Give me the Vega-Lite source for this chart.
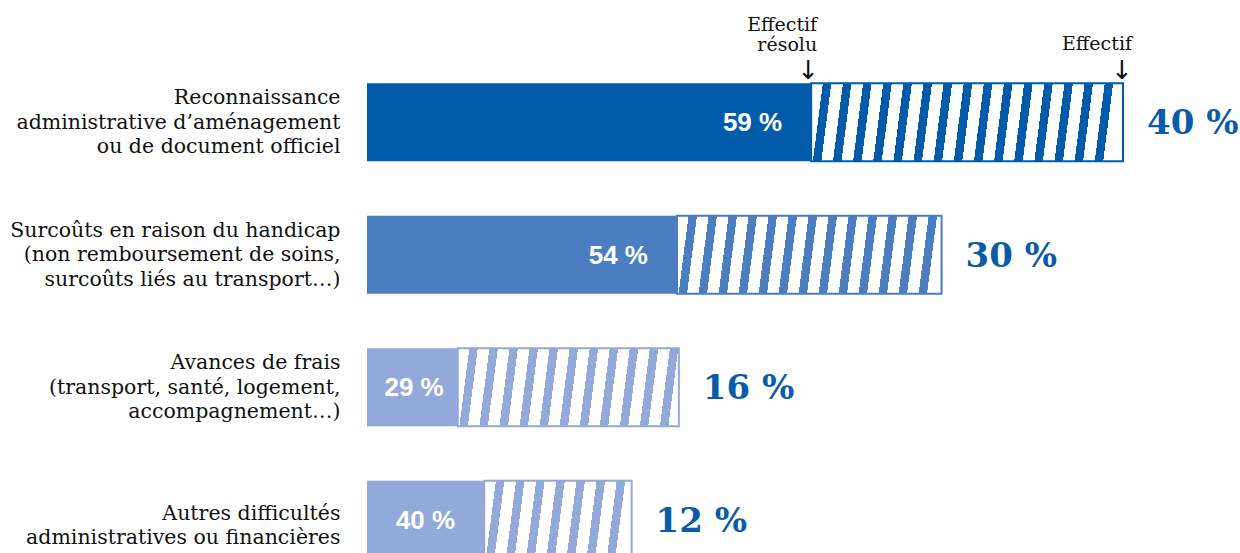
{
  "$schema": "https://vega.github.io/schema/vega-lite/v6.json",
  "width": 756,
  "height": 530,
  "autosize": "none",
  "padding": {"left": 367, "top": 56, "right": 117, "bottom": 0},
  "background": "white",
  "config": {"view": {"stroke": null}},
  "data": {
    "values": [
      {"rang": 1, "categorie": "Reconnaissance|administrative d’aménagement|ou de document officiel", "effectif": 40, "effectif_resolu": 23.5, "part": "40 %", "taux_resolu": "59 %"},
      {"rang": 2, "categorie": "Surcoûts en raison du handicap|(non remboursement de soins,|surcoûts liés au transport…)", "effectif": 30.4, "effectif_resolu": 16.4, "part": "30 %", "taux_resolu": "54 %"},
      {"rang": 3, "categorie": "Avances de frais|(transport, santé, logement,|accompagnement…)", "effectif": 16.5, "effectif_resolu": 4.8, "part": "16 %", "taux_resolu": "29 %"},
      {"rang": 4, "categorie": "Autres difficultés|administratives ou financières", "effectif": 14.0, "effectif_resolu": 6.2, "part": "12 %", "taux_resolu": "40 %"}
    ]
  },
  "encoding": {
    "y": {
      "field": "categorie",
      "type": "nominal",
      "scale": {
        "domain": [
          "Reconnaissance|administrative d’aménagement|ou de document officiel",
          "Surcoûts en raison du handicap|(non remboursement de soins,|surcoûts liés au transport…)",
          "Avances de frais|(transport, santé, logement,|accompagnement…)",
          "Autres difficultés|administratives ou financières"
        ],
        "paddingInner": 0.41,
        "paddingOuter": 0.205
      },
      "axis": {
        "title": null,
        "ticks": false,
        "domain": false,
        "labelExpr": "split(datum.label, '|')",
        "labelFont": "DejaVu Serif",
        "labelFontSize": 20.5,
        "labelLineHeight": 24.5,
        "labelColor": "#111111",
        "labelPadding": 27,
        "labelLimit": 400,
        "labelOffset": {"condition": {"test": "indexof(datum.value, 'Autres') == 0", "value": -6}, "value": -24}
      }
    }
  },
  "layer": [
    {
      "transform": [{"filter": "datum.rang == 1"}],
      "mark": {"type": "bar", "stroke": "#005CAB", "strokeWidth": 2,
        "color": {"gradient": "linear", "x1": 0, "y1": 0, "x2": 1, "y2": 0.032, "stops": [
          {"offset": 0, "color": "#ffffff"}, {"offset": 0.0374, "color": "#ffffff"}, {"offset": 0.0374, "color": "#005CAB"}, {"offset": 0.0645, "color": "#005CAB"},
          {"offset": 0.0645, "color": "#ffffff"}, {"offset": 0.1019, "color": "#ffffff"}, {"offset": 0.1019, "color": "#005CAB"}, {"offset": 0.129, "color": "#005CAB"},
          {"offset": 0.129, "color": "#ffffff"}, {"offset": 0.1664, "color": "#ffffff"}, {"offset": 0.1664, "color": "#005CAB"}, {"offset": 0.1935, "color": "#005CAB"},
          {"offset": 0.1935, "color": "#ffffff"}, {"offset": 0.2309, "color": "#ffffff"}, {"offset": 0.2309, "color": "#005CAB"}, {"offset": 0.258, "color": "#005CAB"},
          {"offset": 0.258, "color": "#ffffff"}, {"offset": 0.2954, "color": "#ffffff"}, {"offset": 0.2954, "color": "#005CAB"}, {"offset": 0.3225, "color": "#005CAB"},
          {"offset": 0.3225, "color": "#ffffff"}, {"offset": 0.3599, "color": "#ffffff"}, {"offset": 0.3599, "color": "#005CAB"}, {"offset": 0.387, "color": "#005CAB"},
          {"offset": 0.387, "color": "#ffffff"}, {"offset": 0.4244, "color": "#ffffff"}, {"offset": 0.4244, "color": "#005CAB"}, {"offset": 0.4515, "color": "#005CAB"},
          {"offset": 0.4515, "color": "#ffffff"}, {"offset": 0.4889, "color": "#ffffff"}, {"offset": 0.4889, "color": "#005CAB"}, {"offset": 0.516, "color": "#005CAB"},
          {"offset": 0.516, "color": "#ffffff"}, {"offset": 0.5534, "color": "#ffffff"}, {"offset": 0.5534, "color": "#005CAB"}, {"offset": 0.5805, "color": "#005CAB"},
          {"offset": 0.5805, "color": "#ffffff"}, {"offset": 0.6179, "color": "#ffffff"}, {"offset": 0.6179, "color": "#005CAB"}, {"offset": 0.645, "color": "#005CAB"},
          {"offset": 0.645, "color": "#ffffff"}, {"offset": 0.6824, "color": "#ffffff"}, {"offset": 0.6824, "color": "#005CAB"}, {"offset": 0.7095, "color": "#005CAB"},
          {"offset": 0.7095, "color": "#ffffff"}, {"offset": 0.7469, "color": "#ffffff"}, {"offset": 0.7469, "color": "#005CAB"}, {"offset": 0.774, "color": "#005CAB"},
          {"offset": 0.774, "color": "#ffffff"}, {"offset": 0.8114, "color": "#ffffff"}, {"offset": 0.8114, "color": "#005CAB"}, {"offset": 0.8385, "color": "#005CAB"},
          {"offset": 0.8385, "color": "#ffffff"}, {"offset": 0.8759, "color": "#ffffff"}, {"offset": 0.8759, "color": "#005CAB"}, {"offset": 0.903, "color": "#005CAB"},
          {"offset": 0.903, "color": "#ffffff"}, {"offset": 0.9404, "color": "#ffffff"}, {"offset": 0.9404, "color": "#005CAB"}, {"offset": 0.9675, "color": "#005CAB"},
          {"offset": 0.9675, "color": "#ffffff"}, {"offset": 1, "color": "#ffffff"}
        ]}
      },
      "encoding": {
        "x": {"field": "effectif_resolu", "type": "quantitative", "scale": {"domain": [0, 40]}, "axis": null},
        "x2": {"field": "effectif"}
      }
    },
    {
      "transform": [{"filter": "datum.rang == 2"}],
      "mark": {"type": "bar", "stroke": "#4A7EC0", "strokeWidth": 2,
        "color": {"gradient": "linear", "x1": 0, "y1": 0, "x2": 1, "y2": 0.0378, "stops": [
          {"offset": 0, "color": "#ffffff"}, {"offset": 0.0438, "color": "#ffffff"}, {"offset": 0.0438, "color": "#4A7EC0"}, {"offset": 0.0755, "color": "#4A7EC0"},
          {"offset": 0.0755, "color": "#ffffff"}, {"offset": 0.1193, "color": "#ffffff"}, {"offset": 0.1193, "color": "#4A7EC0"}, {"offset": 0.151, "color": "#4A7EC0"},
          {"offset": 0.151, "color": "#ffffff"}, {"offset": 0.1948, "color": "#ffffff"}, {"offset": 0.1948, "color": "#4A7EC0"}, {"offset": 0.2265, "color": "#4A7EC0"},
          {"offset": 0.2265, "color": "#ffffff"}, {"offset": 0.2703, "color": "#ffffff"}, {"offset": 0.2703, "color": "#4A7EC0"}, {"offset": 0.302, "color": "#4A7EC0"},
          {"offset": 0.302, "color": "#ffffff"}, {"offset": 0.3458, "color": "#ffffff"}, {"offset": 0.3458, "color": "#4A7EC0"}, {"offset": 0.3775, "color": "#4A7EC0"},
          {"offset": 0.3775, "color": "#ffffff"}, {"offset": 0.4213, "color": "#ffffff"}, {"offset": 0.4213, "color": "#4A7EC0"}, {"offset": 0.453, "color": "#4A7EC0"},
          {"offset": 0.453, "color": "#ffffff"}, {"offset": 0.4968, "color": "#ffffff"}, {"offset": 0.4968, "color": "#4A7EC0"}, {"offset": 0.5285, "color": "#4A7EC0"},
          {"offset": 0.5285, "color": "#ffffff"}, {"offset": 0.5723, "color": "#ffffff"}, {"offset": 0.5723, "color": "#4A7EC0"}, {"offset": 0.604, "color": "#4A7EC0"},
          {"offset": 0.604, "color": "#ffffff"}, {"offset": 0.6478, "color": "#ffffff"}, {"offset": 0.6478, "color": "#4A7EC0"}, {"offset": 0.6795, "color": "#4A7EC0"},
          {"offset": 0.6795, "color": "#ffffff"}, {"offset": 0.7233, "color": "#ffffff"}, {"offset": 0.7233, "color": "#4A7EC0"}, {"offset": 0.755, "color": "#4A7EC0"},
          {"offset": 0.755, "color": "#ffffff"}, {"offset": 0.7988, "color": "#ffffff"}, {"offset": 0.7988, "color": "#4A7EC0"}, {"offset": 0.8305, "color": "#4A7EC0"},
          {"offset": 0.8305, "color": "#ffffff"}, {"offset": 0.8743, "color": "#ffffff"}, {"offset": 0.8743, "color": "#4A7EC0"}, {"offset": 0.906, "color": "#4A7EC0"},
          {"offset": 0.906, "color": "#ffffff"}, {"offset": 0.9498, "color": "#ffffff"}, {"offset": 0.9498, "color": "#4A7EC0"}, {"offset": 0.9815, "color": "#4A7EC0"},
          {"offset": 0.9815, "color": "#ffffff"}, {"offset": 1, "color": "#ffffff"}
        ]}
      },
      "encoding": {
        "x": {"field": "effectif_resolu", "type": "quantitative", "scale": {"domain": [0, 40]}, "axis": null},
        "x2": {"field": "effectif"}
      }
    },
    {
      "transform": [{"filter": "datum.rang == 3"}],
      "mark": {"type": "bar", "stroke": "#92A9D9", "strokeWidth": 2,
        "color": {"gradient": "linear", "x1": 0, "y1": 0, "x2": 1, "y2": 0.0452, "stops": [
          {"offset": 0, "color": "#ffffff"}, {"offset": 0.0525, "color": "#ffffff"}, {"offset": 0.0525, "color": "#92A9D9"}, {"offset": 0.0905, "color": "#92A9D9"},
          {"offset": 0.0905, "color": "#ffffff"}, {"offset": 0.143, "color": "#ffffff"}, {"offset": 0.143, "color": "#92A9D9"}, {"offset": 0.181, "color": "#92A9D9"},
          {"offset": 0.181, "color": "#ffffff"}, {"offset": 0.2335, "color": "#ffffff"}, {"offset": 0.2335, "color": "#92A9D9"}, {"offset": 0.2715, "color": "#92A9D9"},
          {"offset": 0.2715, "color": "#ffffff"}, {"offset": 0.324, "color": "#ffffff"}, {"offset": 0.324, "color": "#92A9D9"}, {"offset": 0.362, "color": "#92A9D9"},
          {"offset": 0.362, "color": "#ffffff"}, {"offset": 0.4145, "color": "#ffffff"}, {"offset": 0.4145, "color": "#92A9D9"}, {"offset": 0.4525, "color": "#92A9D9"},
          {"offset": 0.4525, "color": "#ffffff"}, {"offset": 0.505, "color": "#ffffff"}, {"offset": 0.505, "color": "#92A9D9"}, {"offset": 0.543, "color": "#92A9D9"},
          {"offset": 0.543, "color": "#ffffff"}, {"offset": 0.5955, "color": "#ffffff"}, {"offset": 0.5955, "color": "#92A9D9"}, {"offset": 0.6335, "color": "#92A9D9"},
          {"offset": 0.6335, "color": "#ffffff"}, {"offset": 0.686, "color": "#ffffff"}, {"offset": 0.686, "color": "#92A9D9"}, {"offset": 0.724, "color": "#92A9D9"},
          {"offset": 0.724, "color": "#ffffff"}, {"offset": 0.7765, "color": "#ffffff"}, {"offset": 0.7765, "color": "#92A9D9"}, {"offset": 0.8145, "color": "#92A9D9"},
          {"offset": 0.8145, "color": "#ffffff"}, {"offset": 0.867, "color": "#ffffff"}, {"offset": 0.867, "color": "#92A9D9"}, {"offset": 0.905, "color": "#92A9D9"},
          {"offset": 0.905, "color": "#ffffff"}, {"offset": 0.9575, "color": "#ffffff"}, {"offset": 0.9575, "color": "#92A9D9"}, {"offset": 0.9955, "color": "#92A9D9"},
          {"offset": 0.9955, "color": "#ffffff"}, {"offset": 1, "color": "#ffffff"}
        ]}
      },
      "encoding": {
        "x": {"field": "effectif_resolu", "type": "quantitative", "scale": {"domain": [0, 40]}, "axis": null},
        "x2": {"field": "effectif"}
      }
    },
    {
      "transform": [{"filter": "datum.rang == 4"}],
      "mark": {"type": "bar", "stroke": "#92A9D9", "strokeWidth": 2,
        "color": {"gradient": "linear", "x1": 0, "y1": 0, "x2": 1, "y2": 0.068, "stops": [
          {"offset": 0, "color": "#ffffff"}, {"offset": 0.0789, "color": "#ffffff"}, {"offset": 0.0789, "color": "#92A9D9"}, {"offset": 0.136, "color": "#92A9D9"},
          {"offset": 0.136, "color": "#ffffff"}, {"offset": 0.2149, "color": "#ffffff"}, {"offset": 0.2149, "color": "#92A9D9"}, {"offset": 0.272, "color": "#92A9D9"},
          {"offset": 0.272, "color": "#ffffff"}, {"offset": 0.3509, "color": "#ffffff"}, {"offset": 0.3509, "color": "#92A9D9"}, {"offset": 0.408, "color": "#92A9D9"},
          {"offset": 0.408, "color": "#ffffff"}, {"offset": 0.4869, "color": "#ffffff"}, {"offset": 0.4869, "color": "#92A9D9"}, {"offset": 0.544, "color": "#92A9D9"},
          {"offset": 0.544, "color": "#ffffff"}, {"offset": 0.6229, "color": "#ffffff"}, {"offset": 0.6229, "color": "#92A9D9"}, {"offset": 0.68, "color": "#92A9D9"},
          {"offset": 0.68, "color": "#ffffff"}, {"offset": 0.7589, "color": "#ffffff"}, {"offset": 0.7589, "color": "#92A9D9"}, {"offset": 0.816, "color": "#92A9D9"},
          {"offset": 0.816, "color": "#ffffff"}, {"offset": 0.8949, "color": "#ffffff"}, {"offset": 0.8949, "color": "#92A9D9"}, {"offset": 0.952, "color": "#92A9D9"},
          {"offset": 0.952, "color": "#ffffff"}, {"offset": 1, "color": "#ffffff"}
        ]}
      },
      "encoding": {
        "x": {"field": "effectif_resolu", "type": "quantitative", "scale": {"domain": [0, 40]}, "axis": null},
        "x2": {"field": "effectif"}
      }
    },
    {
      "mark": {"type": "bar"},
      "encoding": {
        "x": {"field": "effectif_resolu", "type": "quantitative", "stack": null, "scale": {"domain": [0, 40]}, "axis": null},
        "color": {
          "field": "rang",
          "type": "ordinal",
          "scale": {"domain": [1, 2, 3, 4], "range": ["#005CAB", "#4A7EC0", "#92A9D9", "#92A9D9"]},
          "legend": null
        }
      }
    },
    {
      "transform": [{"filter": "datum.rang != 3"}],
      "mark": {"type": "text", "align": "right", "baseline": "middle", "dx": -29, "dy": 1, "font": "Liberation Sans", "fontWeight": "bold", "fontSize": 26, "color": "#ffffff"},
      "encoding": {
        "x": {"field": "effectif_resolu", "type": "quantitative", "scale": {"domain": [0, 40]}, "axis": null},
        "text": {"field": "taux_resolu"}
      }
    },
    {
      "transform": [{"filter": "datum.rang == 3"}],
      "mark": {"type": "text", "align": "right", "baseline": "middle", "dx": -14, "dy": 1, "font": "Liberation Sans", "fontWeight": "bold", "fontSize": 26, "color": "#ffffff"},
      "encoding": {
        "x": {"field": "effectif_resolu", "type": "quantitative", "scale": {"domain": [0, 40]}, "axis": null},
        "text": {"field": "taux_resolu"}
      }
    },
    {
      "mark": {"type": "text", "align": "left", "baseline": "middle", "dx": 24, "dy": 2, "font": "DejaVu Serif", "fontWeight": "bold", "fontSize": 34, "color": "#0A5CA8"},
      "encoding": {
        "x": {"field": "effectif", "type": "quantitative", "scale": {"domain": [0, 40]}, "axis": null},
        "text": {"field": "part"}
      }
    },
    {
      "transform": [{"filter": "datum.rang == 1"}],
      "mark": {"type": "text", "align": "right", "baseline": "alphabetic", "dx": 6, "dy": -91, "lineHeight": 20, "font": "DejaVu Serif", "fontSize": 19, "color": "#111111", "text": ["Effectif", "résolu"]},
      "encoding": {
        "x": {"field": "effectif_resolu", "type": "quantitative", "scale": {"domain": [0, 40]}, "axis": null}
      }
    },
    {
      "transform": [{"filter": "datum.rang == 1"}],
      "mark": {"type": "text", "align": "right", "baseline": "alphabetic", "dx": 9, "dy": -72, "font": "DejaVu Serif", "fontSize": 19, "color": "#111111", "text": "Effectif"},
      "encoding": {
        "x": {"field": "effectif", "type": "quantitative", "scale": {"domain": [0, 40]}, "axis": null}
      }
    },
    {
      "transform": [{"filter": "datum.rang == 1"}],
      "mark": {"type": "text", "align": "center", "baseline": "middle", "dx": -3, "dy": -51, "font": "DejaVu Sans", "fontSize": 26, "color": "#111111", "text": "↓"},
      "encoding": {
        "x": {"field": "effectif_resolu", "type": "quantitative", "scale": {"domain": [0, 40]}, "axis": null}
      }
    },
    {
      "transform": [{"filter": "datum.rang == 1"}],
      "mark": {"type": "text", "align": "center", "baseline": "middle", "dx": -1, "dy": -51, "font": "DejaVu Sans", "fontSize": 26, "color": "#111111", "text": "↓"},
      "encoding": {
        "x": {"field": "effectif", "type": "quantitative", "scale": {"domain": [0, 40]}, "axis": null}
      }
    }
  ]
}
